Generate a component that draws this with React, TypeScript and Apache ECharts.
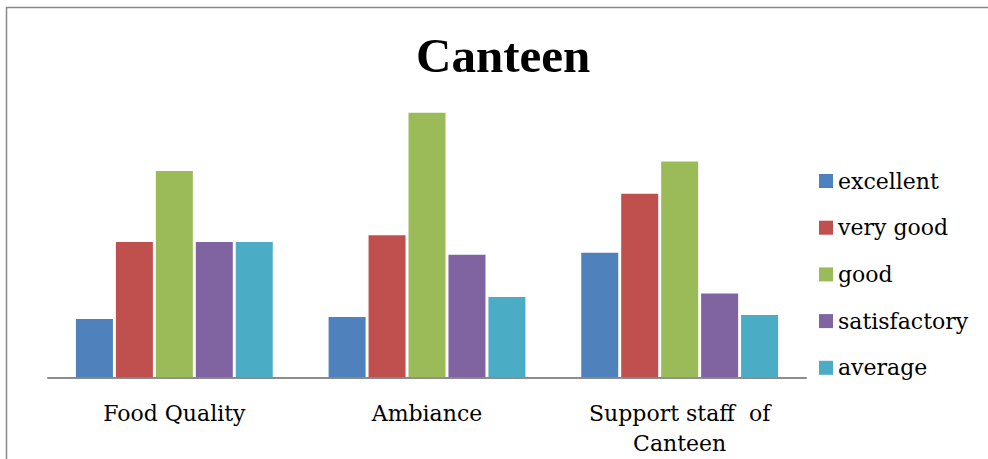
import React, { useEffect, useRef } from "react";
import * as echarts from "echarts";

const categories = ["Food Quality", "Ambiance", "Support staff  of\nCanteen"];
const seriesNames = ["excellent", "very good", "good", "satisfactory", "average"];
const excellent = [8.7, 9.0, 18.6];
const veryGood = [20.2, 21.2, 27.4];
const good = [30.8, 39.5, 32.2];
const satisfactory = [20.2, 18.3, 12.5];
const average = [20.2, 12.0, 9.3];
const seriesValues = [excellent, veryGood, good, satisfactory, average];
const colors = ["#4F81BD", "#C0504D", "#9BBB59", "#8064A2", "#4BACC6"];

export default function App() {
  const ref = useRef<HTMLDivElement>(null);
  useEffect(() => {
    if (!ref.current) return;
    const chart = echarts.init(ref.current, null, { renderer: "svg" });
    const labelFont = "'DejaVu Serif', serif";
    chart.setOption({
      animation: false,
      backgroundColor: "#ffffff",
      title: {
        text: "Canteen",
        left: 416,
        top: 31,
        padding: 0,
        textStyle: {
          fontFamily: "'Liberation Serif', serif",
          fontWeight: "bold",
          fontSize: 49,
          color: "#000000",
        },
      },
      graphic: [
        { type: "line", shape: { x1: 6.5, y1: 7, x2: 6.5, y2: 460 }, style: { stroke: "#888888", lineWidth: 1.5 } },
        { type: "line", shape: { x1: 6, y1: 7.5, x2: 990, y2: 7.5 }, style: { stroke: "#888888", lineWidth: 1.5 } },
      ],
      legend: {
        orient: "vertical",
        left: 819,
        top: 169,
        padding: 0,
        itemWidth: 14,
        itemHeight: 14,
        itemGap: 22.7,
        icon: "rect",
        data: seriesNames,
        textStyle: {
          fontFamily: labelFont,
          fontSize: 22,
          lineHeight: 24,
          color: "#000000",
        },
      },
      grid: { left: 48, right: 182, top: 75.8, bottom: 81.7, containLabel: false },
      xAxis: {
        type: "category",
        data: categories,
        axisLine: { lineStyle: { color: "#8c8c8c", width: 2 } },
        axisTick: { show: false },
        axisLabel: {
          interval: 0,
          margin: 21,
          fontFamily: labelFont,
          fontSize: 22,
          lineHeight: 30,
          color: "#000000",
        },
      },
      yAxis: {
        type: "value",
        min: 0,
        max: 45,
        show: false,
        splitLine: { show: false },
      },
      series: seriesNames.map((name, i) => ({
        name,
        type: "bar",
        data: seriesValues[i],
        barWidth: 37,
        barGap: "8%",
        itemStyle: { color: colors[i] },
      })),
    });
    return () => chart.dispose();
  }, []);
  return (
    <div
      ref={ref}
      style={{ position: "absolute", left: 0, top: 0, width: 988, height: 459 }}
    />
  );
}
